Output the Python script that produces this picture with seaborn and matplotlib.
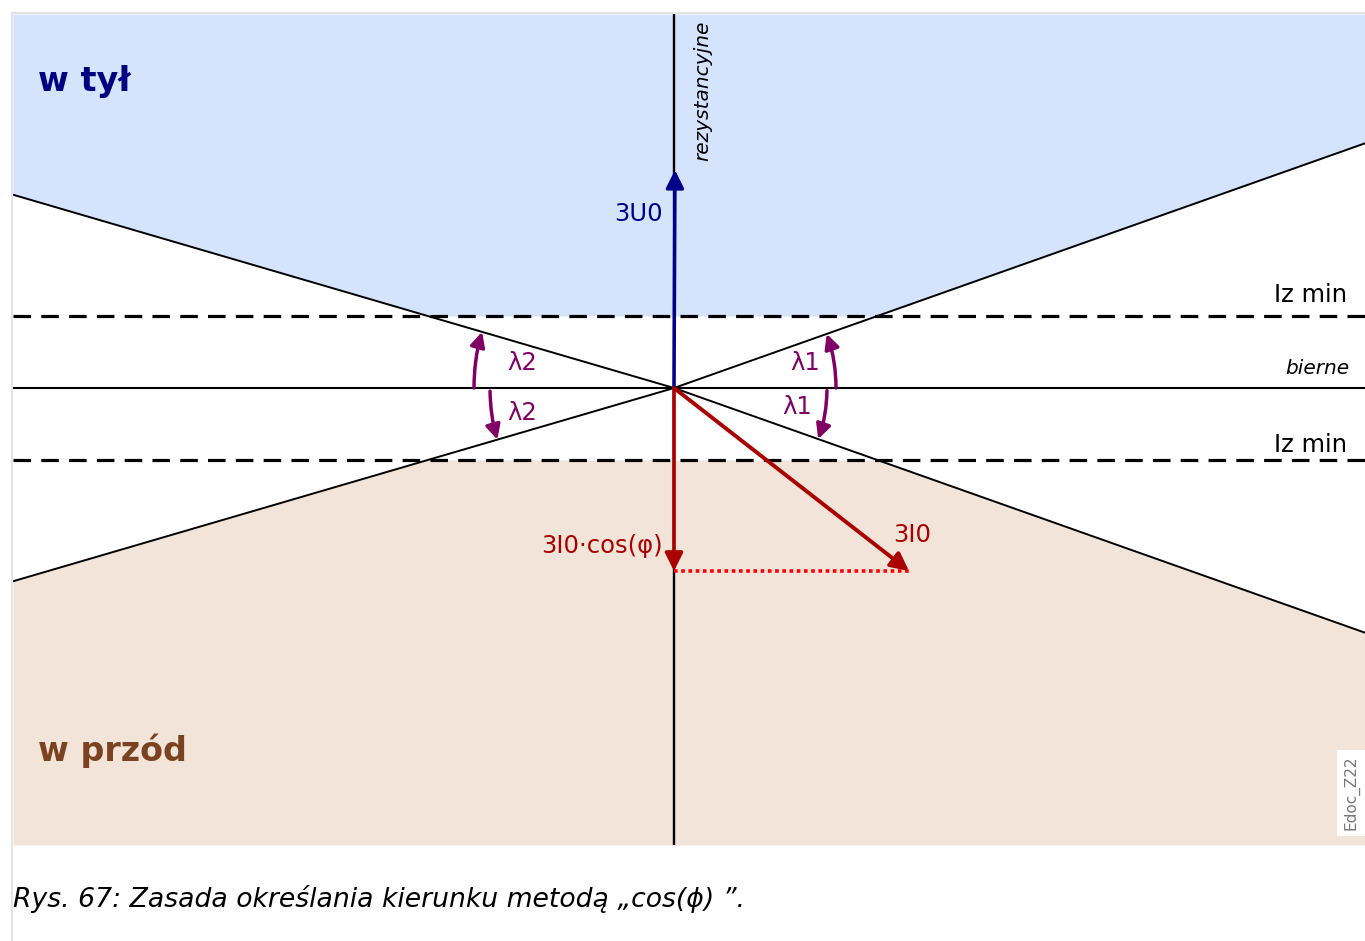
import numpy as np
import pandas as pd
import seaborn as sns
import matplotlib.pyplot as plt
from matplotlib.patches import FancyArrowPatch
from matplotlib.lines import Line2D

# Diagram data (units = px, origin at the crossing point)
lam1_deg = 19.5          # angle of limit lines, right half
lam2_deg = 16.3          # angle of limit lines, left half
iz_min = 72              # |Iz min| threshold level
x_span = [-661, 691]
y_span = [-457, 374]
u0_tip = [1, 218]        # 3U0 vector
i0_tip = [235, -183]     # 3I0 vector
icos_tip = [0, -183]     # 3I0*cos(phi) projection
arc_radii = {'l1_up': 162, 'l1_dn': 153, 'l2_up': 200, 'l2_dn': 184}

sns.set_theme(style='white')
plt.rcParams['font.family'] = ['DejaVu Sans']
plt.rcParams['text.color'] = 'black'

fig = plt.figure(figsize=(13.65, 9.41), dpi=100)
ax = fig.add_axes([13 / 1365, 1 - 845 / 941, 1352 / 1365, 831 / 941])
ax.set_xlim(*x_span)
ax.set_ylim(*y_span)
ax.axis('off')

t1 = np.tan(np.radians(lam1_deg))
t2 = np.tan(np.radians(lam2_deg))
xs = np.linspace(x_span[0], x_span[1], 3001)
edge = np.where(xs < 0, -xs * t2, xs * t1)
bound = np.maximum(edge, iz_min)

# sectors
ax.fill_between(xs, bound, y_span[1], color='#d5e3fd', lw=0, zorder=0)
ax.fill_between(xs, y_span[0], -bound, color='#f3e4d9', lw=0, zorder=0)

# limit lines
lines = pd.DataFrame({
    'x': [x_span[0], 0, x_span[1], x_span[0], 0, x_span[1]],
    'y': [-x_span[0] * t2, 0, -x_span[1] * t1, x_span[0] * t2, 0, x_span[1] * t1],
    'line': ['a', 'a', 'a', 'b', 'b', 'b'],
})
sns.lineplot(data=lines, x='x', y='y', units='line', estimator=None, sort=False,
             color='black', lw=1.4, ax=ax, zorder=2, legend=False)

# axes
ax.plot(x_span, [0, 0], color='black', lw=1.5, zorder=2)
ax.plot([0, 0], y_span, color='black', lw=1.7, zorder=2)
for lvl in (iz_min, -iz_min):
    ax.plot(x_span, [lvl, lvl], color='black', lw=2.3, dashes=(5.5, 3.2), zorder=3)

# vectors
def vec(tip, color, lw):
    ax.annotate('', xy=tip, xytext=(0, 0),
                arrowprops=dict(arrowstyle='-|>', color=color, lw=lw,
                                mutation_scale=27, shrinkA=0, shrinkB=0), zorder=5)

ax.plot([icos_tip[0], i0_tip[0]], [icos_tip[1], i0_tip[1]], color='#ff0000',
        lw=2.6, dashes=(1, 1), zorder=4)
vec(u0_tip, '#00008b', 2.5)
vec(i0_tip, '#aa0000', 2.8)
vec(icos_tip, '#aa0000', 2.6)

# angle arcs
def arc(r, a0, a1):
    p0 = (r * np.cos(np.radians(a0)), r * np.sin(np.radians(a0)))
    p1 = (r * np.cos(np.radians(a1)), r * np.sin(np.radians(a1)))
    th = np.radians(abs(a1 - a0))
    rad = (1 - np.cos(th / 2)) / np.sin(th / 2)
    sgn = 1 if a1 > a0 else -1
    ax.add_patch(FancyArrowPatch(p0, p1, connectionstyle=f'arc3,rad={sgn * rad}',
                                 arrowstyle='-|>', color='#800066', lw=2.5,
                                 mutation_scale=22, shrinkA=0, shrinkB=0, zorder=5))

arc(arc_radii['l1_up'], 0, lam1_deg)
arc(arc_radii['l1_dn'], -1, -lam1_deg)
arc(arc_radii['l2_up'], 180, 180 - lam2_deg)
arc(arc_radii['l2_dn'], 181, 180 + lam2_deg)

# labels
purple = '#800066'
fs = 17.5
ax.text(-167, 25, 'λ2', color=purple, fontsize=fs, ha='left', va='center')
ax.text(-167, -25, 'λ2', color=purple, fontsize=fs, ha='left', va='center')
ax.text(116, 25, 'λ1', color=purple, fontsize=fs, ha='left', va='center')
ax.text(108, -19, 'λ1', color=purple, fontsize=fs, ha='left', va='center')
ax.text(-11, 174, '3U0', color='#00008b', fontsize=fs, ha='right', va='center')
ax.text(-11, -158, '3I0·cos(φ)', color='#aa0000', fontsize=fs, ha='right', va='center')
ax.text(219, -147, '3I0', color='#aa0000', fontsize=fs, ha='left', va='center')
ax.text(673, 93, 'Iz min', color='black', fontsize=fs, ha='right', va='center')
ax.text(673, -57, 'Iz min', color='black', fontsize=fs, ha='right', va='center')
ax.text(675, 20, 'bierne', color='black', fontsize=14.5, style='italic',
        ha='right', va='center')
ax.text(29, 297, 'rezystancyjne', color='black', fontsize=14.5, style='italic',
        rotation=90, ha='center', va='center')
ax.text(-636, 306, 'w tył', color='#000080', fontsize=24, fontweight='bold',
        ha='left', va='center')
ax.text(-636, -363, 'w przód', color='#7a4220', fontsize=24, fontweight='bold',
        ha='left', va='center')
ax.text(677, -405, 'Edoc_Z22', color='#777777', fontsize=11, rotation=90,
        ha='center', va='center',
        bbox=dict(boxstyle='square,pad=0.4', fc='white', ec='none'), zorder=6)

# page frame and caption
fig.add_artist(Line2D([12 / 1365, 12 / 1365], [0, 1 - 13 / 941], color='#e4e4e4', lw=1.5))
fig.add_artist(Line2D([12 / 1365, 1], [1 - 13 / 941, 1 - 13 / 941], color='#e4e4e4', lw=1.5))
fig.text(13 / 1365, 1 - 899 / 941, 'Rys. 67: Zasada określania kierunku metodą „cos(ϕ) ”.',
         fontsize=19.2, style='italic', color='black', ha='left', va='center')

fig.savefig('out.png', dpi=100)
